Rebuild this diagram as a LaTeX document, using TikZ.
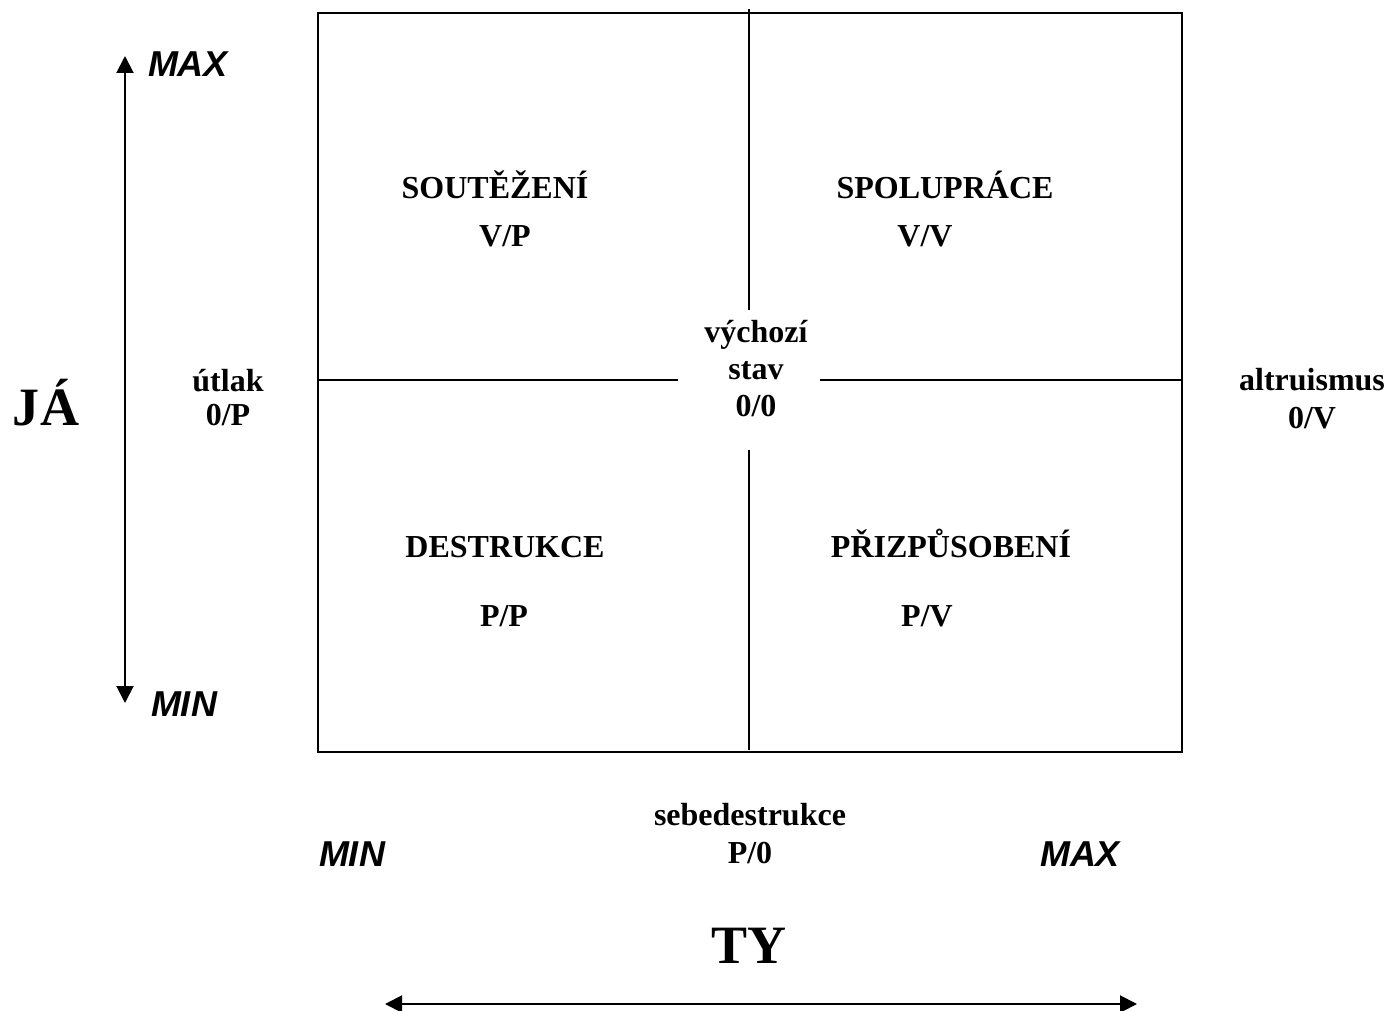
\documentclass[tikz,border=0pt]{standalone}
\usepackage{fontspec}
\setmainfont{Liberation Serif}
\newfontfamily\arialfont{Liberation Sans}
\usetikzlibrary{arrows.meta}
\tikzset{
  lbl/.style={font=\fontsize{32}{37}\selectfont\bfseries, inner sep=0pt, align=center, anchor=base},
  big/.style={font=\fontsize{54}{60}\selectfont\bfseries, inner sep=0pt, anchor=base},
  ax/.style={font=\arialfont\fontsize{36}{40}\selectfont\bfseries\itshape, inner sep=0pt, anchor=base},
  ln/.style={line width=2pt},
  arrb/.style={line width=2pt, {Triangle[length=17pt,width=17pt]}-{Triangle[length=17pt,width=17pt]}}
}
\begin{document}
\begin{tikzpicture}[x=1pt,y=-1pt]
\useasboundingbox (0,0) rectangle (1391,1011);
% frame
\coordinate (tl) at (318,13);
\coordinate (br) at (1182,752);
\draw[ln] (tl) rectangle (br);
\coordinate (vt) at (749,9);
\coordinate (vm1) at (749,310);
\coordinate (vm2) at (749,450);
\coordinate (vb) at (749,750);
\coordinate (hl) at (318,380);
\coordinate (hm1) at (678,380);
\coordinate (hm2) at (820,380);
\coordinate (hr) at (1182,380);
\draw[ln] (vt) -- (vm1);
\draw[ln] (vm2) -- (vb);
\draw[ln] (hl) -- (hm1);
\draw[ln] (hm2) -- (hr);
% quadrant labels
\node[lbl] (q1) at (495,199) {SOUTĚŽENÍ};
\node[lbl] (q1b) at (505,246) {V/P};
\node[lbl] (q2) at (945,199) {SPOLUPRÁCE};
\node[lbl] (q2b) at (925,246) {V/V};
\node[lbl] (q3) at (505,557) {DESTRUKCE};
\node[lbl] (q3b) at (504,626) {P/P};
\node[lbl] (q4) at (951,557) {PŘIZPŮSOBENÍ};
\node[lbl] (q4b) at (927,626) {P/V};
% center and side labels (base = last line)
\node[lbl] (c) at (756,416) {výchozí\\stav\\0/0};
\node[lbl, font=\fontsize{32}{34}\selectfont\bfseries] (utl) at (228,425) {útlak\\0/P};
\node[lbl, font=\fontsize{32}{38}\selectfont\bfseries] (alt) at (1312,428) {altruismus\\0/V};
\node[lbl, font=\fontsize{32}{38}\selectfont\bfseries] (seb) at (750,863) {sebedestrukce\\P/0};
% big labels
\node[big] (ja) at (46,425) {J\kern2ptÁ};
\node[big] (ty) at (749,963) {TY};
% axis labels
\node[ax] (ymax) at (188,77) {MAX};
\node[ax] (ymin) at (184,716) {MIN};
\node[ax] (xmin) at (352,866) {MIN};
\node[ax] (xmax) at (1080,866) {MAX};
% arrows
\coordinate (ya) at (125,56);
\coordinate (yb) at (125,703);
\draw[arrb] (ya) -- (yb);
\coordinate (xa) at (385,1004);
\coordinate (xb) at (1137,1004);
\draw[arrb] (xa) -- (xb);
\end{tikzpicture}
\end{document}
